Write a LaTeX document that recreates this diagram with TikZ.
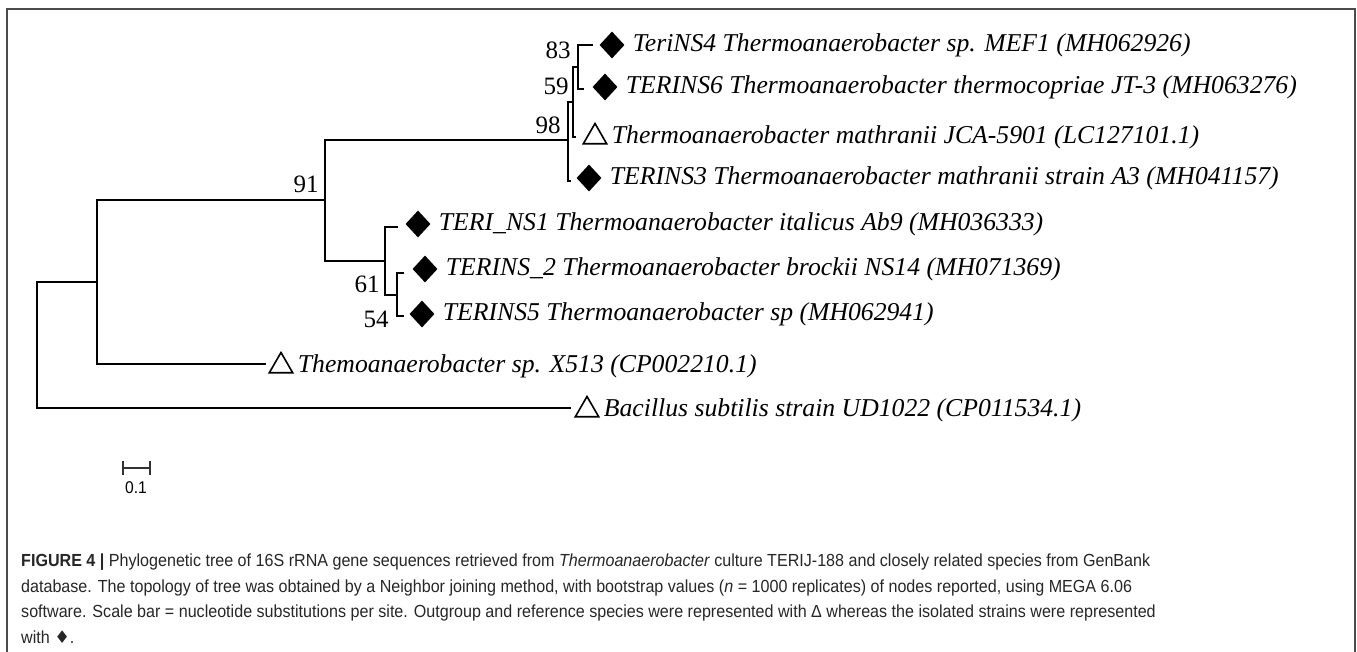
\documentclass[tikz,border=0pt]{standalone}
\usepackage{fontspec}
\setmainfont{Liberation Serif}
\newfontfamily\capfont[FakeStretch=0.92]{Liberation Sans}
\newfontfamily\symfont{DejaVu Sans}
\usetikzlibrary{positioning,shapes.geometric}

\tikzset{
  branch/.style={line width=1.3pt, line cap=rect},
  dmd/.style={diamond, fill=black, inner sep=0pt, minimum width=25pt, minimum height=27pt},
  tri/.style={regular polygon, regular polygon sides=3, draw, line width=1.6pt, inner sep=0pt, minimum size=27pt},
  leaf/.style={font=\fontsize{25.7}{30}\selectfont\itshape, inner sep=0pt, anchor=west},
  boot/.style={font=\fontsize{25}{30}\selectfont, inner sep=0pt},
  capt/.style={font=\capfont\fontsize{17.5}{25.5}\selectfont, text=black!85, align=left, inner sep=0pt, anchor=base west}
}

\begin{document}
\begin{tikzpicture}[x=1pt,y=-1pt]
\useasboundingbox (0,0) rectangle (1357,652);
\draw[black!70, line width=2pt] (7,652) -- (7,9) -- (1355,9) -- (1355,652);

\coordinate (r)   at (37,345);
\coordinate (n1)  at (97,282);
\coordinate (n91) at (325,200);
\coordinate (n98) at (568,140);
\coordinate (n59) at (573,102);
\coordinate (n83) at (578,67);
\coordinate (n61) at (385,261);
\coordinate (n54) at (397,295);
\coordinate (t1) at (592,45);
\coordinate (t2) at (583,89);
\coordinate (t3) at (575,137);
\coordinate (t4) at (570,181);
\coordinate (t5) at (397,227);
\coordinate (t6) at (403,273);
\coordinate (t7) at (403,316);
\coordinate (t8) at (265,364);
\coordinate (t9) at (570,408);

\draw[branch] (r) |- (n1);   \draw[branch] (r) |- (t9);
\draw[branch] (n1) |- (n91); \draw[branch] (n1) |- (t8);
\draw[branch] (n91) |- (n98); \draw[branch] (n91) |- (n61);
\draw[branch] (n61) |- (t5); \draw[branch] (n61) |- (n54);
\draw[branch] (n54) |- (t6); \draw[branch] (n54) |- (t7);
\draw[branch] (n98) |- (n59); \draw[branch] (n98) |- (t4);
\draw[branch] (n59) |- (n83); \draw[branch] (n59) |- (t3);
\draw[branch] (n83) |- (t1); \draw[branch] (n83) |- (t2);

\node[boot] (b83) at (558,50) {83};
\node[boot] (b59) at (556,86) {59};
\node[boot] (b98) at (548,125) {98};
\node[boot] (b91) at (306,184) {91};
\node[boot] (b61) at (367,284) {61};
\node[boot] (b54) at (376,319) {54};

\node[dmd] (s1) at (612,45) {};
\node[leaf, right=8pt of s1] (l1) {TeriNS4 Thermoanaerobacter sp. MEF1 (MH062926)};
\node[dmd] (s2) at (605,87) {};
\node[leaf, right=8pt of s2] (l2) {TERINS6 Thermoanaerobacter thermocopriae JT-3 (MH063276)};
\node[tri] (s3) at (595,137) {};
\node[leaf, right=8pt of s3] (l3) {Thermoanaerobacter mathranii JCA-5901 (LC127101.1)};
\node[dmd] (s4) at (589,178) {};
\node[leaf, right=8pt of s4] (l4) {TERINS3 Thermoanaerobacter mathranii strain A3 (MH041157)};
\node[dmd] (s5) at (418,224) {};
\node[leaf, right=8pt of s5] (l5) {TERI\_NS1 Thermoanaerobacter italicus Ab9 (MH036333)};
\node[dmd] (s6) at (425,269) {};
\node[leaf, right=8pt of s6] (l6) {TERINS\_2 Thermoanaerobacter brockii NS14 (MH071369)};
\node[dmd] (s7) at (422,314) {};
\node[leaf, right=8pt of s7] (l7) {TERINS5 Thermoanaerobacter sp (MH062941)};
\node[tri] (s8) at (281,366) {};
\node[leaf, right=8pt of s8] (l8) {Themoanaerobacter sp. X513 (CP002210.1)};
\node[tri] (s9) at (587,410) {};
\node[leaf, right=8pt of s9] (l9) {Bacillus subtilis strain UD1022 (CP011534.1)};

\coordinate (sb0) at (123,468);
\coordinate (sb1) at (150,468);
\draw[line width=1.5pt, black!80] (sb0) -- (sb1);
\draw[line width=1.5pt, black!80] (sb0) ++(0,-7) -- ++(0,14);
\draw[line width=1.5pt, black!80] (sb1) ++(0,-7) -- ++(0,14);
\node[font=\capfont\fontsize{17}{20}\selectfont, inner sep=0pt] (sbl) at (136,488) {0.1};

\node[capt] (cap) at (21,643) {\textbf{FIGURE 4 |} Phylogenetic tree of 16S rRNA gene sequences retrieved from \textit{Thermoanaerobacter} culture TERIJ-188 and closely related species from GenBank\\
database. The topology of tree was obtained by a Neighbor joining method, with bootstrap values (\textit{n} = 1000 replicates) of nodes reported, using MEGA 6.06\\
software. Scale bar = nucleotide substitutions per site. Outgroup and reference species were represented with Δ whereas the isolated strains were represented\\
with {\symfont ♦}.};
\end{tikzpicture}
\end{document}
